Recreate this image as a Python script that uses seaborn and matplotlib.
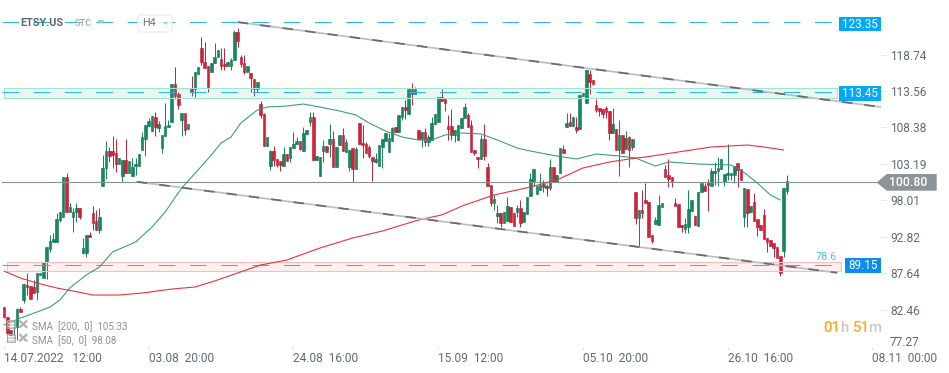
# ETSY.US H4 candle chart with channel lines and SMA
import numpy as np
import pandas as pd
import matplotlib.pyplot as plt
import matplotlib.transforms as mtransforms
from matplotlib.patches import Rectangle, Polygon, FancyBboxPatch
import seaborn as sns

open_px = [
    82.84,81.42,79.57,79.86,80.00,82.56,83.84,85.97,85.83,85.69,
    84.97,87.40,86.97,89.24,91.09,92.08,92.08,95.22,95.64,101.33,
    96.35,95.64,96.35,96.92,90.52,90.52,93.08,96.21,95.07,93.79,
    100.05,102.61,105.03,105.03,104.74,103.18,101.47,103.75,101.90,101.47,
    102.89,102.89,105.17,106.73,108.58,107.87,109.86,108.30,105.45,107.16,
    108.44,109.15,114.56,113.13,109.44,110.43,108.16,113.84,113.84,115.98,
    119.67,117.68,117.11,116.26,117.54,118.39,118.11,117.40,117.11,117.11,
    117.97,121.95,118.39,117.54,116.26,116.12,115.27,113.84,111.71,110.29,
    105.74,102.89,105.03,103.89,103.61,102.89,104.60,104.03,105.46,106.02,
    106.45,105.03,107.44,109.15,109.86,103.75,101.47,105.03,105.74,106.02,
    106.73,102.75,105.88,107.30,104.89,102.75,105.45,102.47,109.01,106.17,
    106.02,105.60,104.17,103.46,102.89,105.60,106.45,104.89,106.45,108.44,
    107.73,109.86,111.28,110.29,113.84,113.13,108.01,106.73,107.73,106.31,
    106.59,108.87,109.15,112.71,112.56,108.58,108.58,107.30,106.59,108.30,
    109.72,110.15,108.73,105.17,104.17,103.89,106.73,102.75,100.19,97.63,
    95.79,96.21,94.79,95.07,97.07,96.21,96.35,96.92,94.93,96.07,
    98.63,100.76,98.91,99.48,99.91,100.05,99.77,102.75,100.62,101.90,
    105.31,108.44,109.15,108.58,108.44,108.16,112.85,111.85,115.98,115.12,
    111.57,111.14,111.00,111.14,110.72,107.59,108.16,105.17,107.30,105.31,
    107.02,105.60,99.20,95.50,96.64,98.06,97.78,93.08,94.65,94.51,
    97.07,102.47,101.62,101.33,97.63,97.49,94.51,93.94,94.22,96.50,
    95.78,94.36,99.20,100.05,100.62,100.05,101.90,102.18,102.47,100.62,
    101.62,101.62,101.62,103.32,102.47,95.64,99.62,96.35,97.78,95.36,
    94.51,95.93,92.66,92.37,91.95,91.38,90.10,90.81,99.34,
]
close_px = [
    81.42,79.14,78.86,80.00,82.56,82.14,86.11,85.69,83.98,84.83,
    87.68,87.68,89.24,91.37,92.23,92.51,95.36,96.35,101.33,96.35,
    97.07,96.35,96.92,95.64,91.23,93.08,92.80,94.79,93.79,95.64,
    102.61,105.03,104.32,104.46,103.18,104.03,103.75,101.90,103.61,102.75,
    103.18,104.60,107.02,108.73,109.29,110.00,108.44,108.87,107.30,108.58,
    108.73,114.56,112.85,111.57,110.43,108.01,108.87,113.42,116.26,116.97,
    117.68,116.83,114.13,117.54,118.39,119.39,117.11,117.11,117.68,117.97,
    121.95,120.67,117.40,116.26,117.11,115.41,113.84,114.84,110.15,105.74,
    107.02,105.03,103.75,103.04,103.04,104.60,103.61,105.60,106.02,106.45,
    105.31,107.59,108.01,109.86,103.75,104.32,104.17,105.74,104.89,106.73,
    102.75,105.60,107.30,105.03,106.31,105.17,102.47,105.31,106.02,105.88,
    104.74,104.32,103.61,103.89,105.88,106.73,107.59,106.88,108.30,107.73,
    110.15,111.28,110.86,113.84,113.13,113.84,106.73,107.73,106.31,107.02,
    109.01,110.29,112.71,112.14,111.85,108.16,107.30,108.01,108.73,109.72,
    111.28,108.44,104.89,104.74,103.89,106.73,104.32,100.05,97.63,98.20,
    96.21,94.79,96.35,97.21,94.93,94.36,96.92,94.79,96.35,98.49,
    101.05,102.47,100.05,100.19,100.34,99.77,102.75,100.62,101.62,105.45,
    104.74,109.01,108.58,109.86,108.01,112.99,113.27,116.55,114.84,114.56,
    110.86,110.72,110.29,110.57,107.59,108.87,105.17,107.30,104.74,106.88,
    105.17,106.73,95.50,96.64,96.21,97.63,92.80,92.23,95.22,97.35,
    97.63,101.33,101.05,100.62,97.21,94.22,94.22,94.65,96.78,98.06,
    94.51,99.20,100.48,99.34,100.19,102.18,102.18,102.61,103.89,101.76,
    101.90,101.90,102.89,102.33,100.90,99.77,96.21,97.21,95.07,94.22,
    93.79,92.51,92.09,91.52,91.24,89.81,87.68,99.77,100.76,
]
high_px = [
    82.84,81.42,79.57,81.00,82.70,82.84,86.11,87.68,85.83,86.68,
    87.68,87.68,89.24,91.37,93.08,93.37,96.21,96.35,101.33,101.90,
    97.63,96.92,97.63,96.92,92.66,93.08,93.51,97.21,96.64,96.92,
    104.46,106.45,105.60,107.16,106.73,104.03,103.75,106.73,103.61,104.03,
    104.03,104.60,107.73,108.73,109.72,110.00,110.57,109.29,107.30,111.85,
    109.44,114.56,116.97,113.42,110.43,110.43,108.87,115.69,116.26,116.97,
    121.24,120.53,117.11,117.54,120.39,119.39,119.67,119.67,117.68,118.25,
    122.23,122.52,118.68,118.68,117.11,116.12,115.27,114.84,112.14,110.43,
    107.02,105.17,105.74,103.89,103.61,105.60,104.60,105.60,107.73,107.00,
    106.45,108.44,108.01,110.57,110.57,104.32,104.17,106.59,105.74,108.87,
    107.87,105.60,107.30,108.30,106.73,105.17,105.45,105.60,109.01,108.73,
    106.31,105.88,104.17,104.74,105.88,106.73,107.59,107.59,108.44,108.44,
    110.15,111.28,112.28,113.84,114.70,114.13,108.01,107.73,108.30,107.30,
    109.86,110.29,112.71,113.84,112.56,110.15,111.00,108.01,108.73,109.72,
    111.85,110.43,109.44,105.17,104.17,107.30,108.87,103.32,100.19,98.77,
    97.35,96.21,96.35,98.49,97.07,96.21,97.35,98.06,96.35,98.49,
    101.90,102.47,100.05,101.90,100.90,100.34,103.89,102.75,101.62,105.45,
    105.88,110.43,110.43,109.86,109.86,112.99,113.27,116.55,116.55,115.12,
    112.42,111.14,111.00,111.43,110.72,111.14,108.16,109.44,107.30,107.87,
    107.16,106.73,99.20,96.64,99.48,100.48,97.78,93.08,95.64,98.77,
    97.63,103.04,103.89,101.33,98.34,97.49,94.51,95.50,99.48,98.06,
    95.78,99.20,100.48,100.48,101.05,102.61,103.46,104.17,103.89,101.76,
    105.98,101.90,102.89,103.32,102.47,99.77,99.62,97.21,99.06,95.36,
    94.51,96.78,92.66,92.37,91.95,91.38,90.10,99.77,101.61,
]
low_px = [
    81.28,77.87,78.57,78.15,78.15,82.14,83.41,84.55,83.98,84.83,
    83.84,87.40,86.97,86.82,90.67,92.08,92.08,94.93,95.64,96.35,
    96.35,93.51,94.93,95.36,90.38,89.95,92.80,93.79,93.79,93.37,
    100.05,101.05,103.50,102.61,102.04,103.18,100.62,101.90,101.90,101.47,
    101.62,102.89,105.17,104.32,108.58,107.87,107.16,107.73,104.74,107.16,
    108.44,109.15,112.42,111.00,107.16,107.30,108.16,112.85,112.71,115.98,
    117.26,116.83,113.42,116.26,117.54,118.39,116.55,116.55,117.11,116.55,
    117.97,119.82,116.97,115.98,116.26,113.42,112.85,113.42,109.72,105.74,
    105.74,102.33,102.89,102.75,102.18,102.89,103.61,103.46,105.46,106.02,
    105.17,105.03,107.44,108.58,103.75,103.75,101.47,103.46,104.89,104.17,
    102.75,102.75,105.88,105.03,104.89,102.18,100.62,102.47,106.02,104.03,
    104.74,104.03,100.76,103.32,102.89,102.61,106.45,104.89,106.45,107.73,
    107.73,109.44,109.58,110.29,111.57,113.13,106.73,105.60,105.74,105.74,
    106.59,108.87,109.15,112.14,110.72,106.59,106.59,106.31,106.59,108.30,
    109.72,108.44,104.89,104.46,102.61,103.89,103.75,100.05,97.21,96.64,
    94.79,94.22,94.79,95.07,94.93,94.36,95.64,94.22,94.93,96.07,
    98.63,100.05,98.91,99.48,99.20,98.63,99.48,100.62,100.62,101.90,
    104.74,108.44,108.58,108.58,107.59,108.16,112.85,111.85,113.13,114.41,
    110.57,110.00,109.72,109.72,106.59,107.59,105.17,101.47,104.74,105.31,
    102.75,105.17,94.65,91.52,95.50,97.63,92.80,91.95,94.65,94.51,
    97.07,101.33,99.91,99.91,97.21,94.22,93.51,93.37,93.37,96.50,
    94.51,94.36,99.20,99.34,96.50,100.05,100.19,100.05,102.47,100.05,
    100.90,100.90,100.48,99.91,100.90,94.22,94.22,96.35,95.07,92.94,
    93.79,92.51,90.67,91.52,89.95,89.81,87.25,89.95,98.91,
]

sma50_bars = [0,5,10,14,17,20,25,29,33,40,45,49,54,59,63,66,69,72,77,80,86,91,96,102,107,111,116,121,
              126,130,134,139,145,150,156,160,168,174,180,187,192,198,202,211,221,224,229,233,236]
sma50 = [80.29,81.28,82.13,82.84,83.84,85.55,87.40,88.53,90.67,92.09,94.22,96.35,99.77,102.33,104.46,
         106.17,107.02,109.01,110.86,111.28,111.43,111.71,111.28,110.72,110.15,109.01,107.87,107.02,
         106.59,106.59,107.30,107.59,107.45,106.59,105.45,105.03,104.32,103.89,104.60,104.32,104.03,
         102.89,103.46,103.18,103.04,102.33,100.48,98.77,98.06]
sma200_bars = [0,5,10,16,21,27,35,42,51,58,64,71,78,86,96,106,115,126,133,140,149,160,168,176,184,192,
               195,205,215,226,231,237]
sma200 = [87.96,86.97,86.26,85.55,85.12,84.55,84.55,84.83,85.40,85.69,86.54,87.68,88.82,89.53,91.23,
          92.66,93.65,95.22,95.93,97.35,98.77,99.91,100.90,102.61,103.46,104.03,104.17,104.89,105.60,
          105.88,105.60,105.17]

y_ticks = [118.74, 113.56, 108.38, 103.19, 98.01, 92.82, 87.64, 82.46, 77.27]
x_tick_bars = [0, 44, 88, 132, 176, 220, 264]
x_tick_labels = ['14.07.2022   12:00', '03.08  20:00', '24.08  16:00', '15.09  12:00',
                 '05.10  20:00', '26.10  16:00', '08.11  00:00']

# channel lines (bar, price)
upper_bars = [71.1, 266.6]
upper_line = [123.35, 111.28]
lower_bars = [40.4, 253.2]
lower_line = [100.65, 87.72]

GREEN = '#108a5e'
RED = '#d81f38'
GRID_BLUE = '#29b6f6'
TXT = '#5f6b73'

sns.set_theme(style='white')
plt.rcParams['font.family'] = ['Roboto', 'DejaVu Sans']

W, H = 949, 373
fig = plt.figure(figsize=(W/100, H/100), dpi=100, facecolor='white')
ax = fig.add_axes([0, 1-347/H, 881/W, 347/H])
ax.set_xlim(-1.216, 266.6)
ax.set_ylim(77.16, 126.5)
sns.despine(ax=ax, left=True, right=True, top=True, bottom=True)

# figure pixels, origin top left, for the chrome around the plot
px = mtransforms.Affine2D().scale(1/W, -1/H).translate(0, 1) + fig.transFigure

df = pd.DataFrame({'o': open_px, 'h': high_px, 'l': low_px, 'c': close_px})
df['bar'] = np.arange(len(df))
up = df[df.c >= df.o]
dn = df[df.c < df.o]

ax.vlines(up.bar, up.l, up.h, color='#1b7f5a', lw=0.7, zorder=2)
ax.vlines(dn.bar, dn.l, dn.h, color='#b8233a', lw=0.7, zorder=2)
ax.bar(up.bar, up.c-up.o, bottom=up.o, width=0.78, color=GREEN, edgecolor='#0c6e4a', lw=0.4, zorder=2.1)
ax.bar(dn.bar, dn.o-dn.c, bottom=dn.c, width=0.78, color=RED, edgecolor='#b01a30', lw=0.4, zorder=2.1)

# zones
ax.add_patch(Rectangle((0, 112.61), 253.1, 1.38, fc=(0.25, 0.78, 0.6, 0.12), ec='#a3e6d0', lw=0.8, zorder=3))
ax.add_patch(Rectangle((0.9, 88.0), 253.4, 1.29, fc=(0.95, 0.35, 0.35, 0.09), ec='#f7bcbc', lw=0.8, zorder=3))

# horizontal levels
ax.plot([-0.6, 253.5], [123.35, 123.35], color=GRID_BLUE, lw=0.75, dashes=(16, 14), zorder=3.5)
ax.plot([-0.6, 253.5], [113.45, 113.45], color=GRID_BLUE, lw=0.75, dashes=(16, 14), zorder=3.5)
ax.plot([-0.6, 253.5], [88.75, 88.75], color='#5aa6d8', lw=0.75, dashes=(16, 14), zorder=3.5)
ax.plot([-0.6, 265.3], [100.58, 100.58], color='#88939a', lw=0.85, zorder=3.5)

sns.lineplot(x=sma50_bars, y=sma50, ax=ax, color='#2f9a78', lw=0.75, zorder=4, errorbar=None)
sns.lineplot(x=sma200_bars, y=sma200, ax=ax, color='#e5343c', lw=0.8, zorder=4, errorbar=None)

# channel lines, pale line with darker dashes on top
for bars, line in [(upper_bars, upper_line), (lower_bars, lower_line)]:
    ax.plot(bars, line, color='#bcbfc1', lw=1.25, zorder=5)
    ax.plot(bars, line, color='#666b6e', lw=1.25, dashes=(6, 7), zorder=5.1)

# axes
ax.yaxis.tick_right()
ax.set_yticks(y_ticks)
ax.set_yticklabels([f'{v:.2f}' for v in y_ticks])
ax.tick_params(axis='y', right=True, left=False, length=4.3, width=0.7, color='#e6e6e6', pad=2.2,
               labelsize=8.6, labelcolor=TXT)
ax.yaxis.get_major_ticks()[-1].tick2line.set_visible(False)
low_lab = ax.get_yticklabels()[-1]
low_lab.set_transform(low_lab.get_transform() + mtransforms.ScaledTranslation(0, 4/72, fig.dpi_scale_trans))

ax.set_xticks(x_tick_bars)
ax.set_xticklabels(x_tick_labels, ha='left')
ax.tick_params(axis='x', bottom=True, length=2.5, width=0.7, color='#dddddd', pad=1.0,
               labelsize=8.6, labelcolor=TXT)
ax.grid(False)

# price boxes
def price_box(x0, x1, y0, y1, label, color):
    fig.add_artist(Rectangle((x0, y0), x1-x0, y1-y0, transform=px, fc=color, ec='none', zorder=7))
    fig.text((x0+x1)/2, (y0+y1)/2, label, transform=px, color='white', fontsize=8.4,
             ha='center', va='center', zorder=8)

price_box(839, 881, 17.3, 30.7, '123.35', '#03a9f4')
price_box(839, 881, 86, 100.7, '113.45', '#03a9f4')
price_box(845, 881, 258, 272.7, '89.15', '#0a8cf0')

fig.add_artist(Polygon([(876.7, 182.5), (886.7, 174), (936.7, 174), (936.7, 190.7), (886.7, 190.7)],
                       transform=px, fc='#8a9499', ec='none', zorder=7))
fig.text(908, 182.5, '100.80', transform=px, color='white', fontsize=8.8, fontweight='medium',
         ha='center', va='center', zorder=8)

fig.text(826.7, 256.7, '78.6', transform=px, color='#5bbcf0', fontsize=7.8, ha='center', va='center', zorder=8)

# countdown
for xp, s, c in [(823, '01', '#ffa726'), (840, 'h', '#c9c9c9'), (852.3, '51', '#ffa726'), (868.3, 'm', '#c9c9c9')]:
    fig.text(xp, 328, s, transform=px, color=c, fontsize=10.8, fontweight='medium', ha='left', va='center', zorder=8)

# header
fig.text(20.7, 23, 'ETSY.US', transform=px, color='#5b6770', fontsize=7.8, fontweight='bold', va='center', zorder=8)
fig.text(75, 24, 'STC', transform=px, color='#a9b6c0', fontsize=6.6, fontweight='bold', va='center', zorder=8)
fig.add_artist(Polygon([(97, 20), (105, 20), (101, 24)], transform=px, fc='#b8c2c8', ec='none', zorder=8))
fig.add_artist(FancyBboxPatch((138, 15), 34, 17, boxstyle='round,pad=0,rounding_size=2.5', transform=px,
                              fc='#ffffff', ec='#e8e8e8', lw=0.9, alpha=0.85, zorder=7))
fig.text(142, 23.5, 'H4', transform=px, color='#6b7780', fontsize=7.8, va='center', zorder=8)
fig.add_artist(Polygon([(163, 22), (168, 22), (165.5, 25)], transform=px, fc='#b8c2c8', ec='none', zorder=8))

# sma legend
for yp, s in [(326.7, 'SMA  [200,  0]  105.33'), (340.3, 'SMA  [50,  0]  98.08')]:
    fig.text(31.7, yp, s, transform=px, color='#8d9296', fontsize=7.1, va='center', zorder=8)
    ly = yp-2.5
    fig.add_artist(Rectangle((7.5, ly-4), 8, 8, transform=px, fc=(0.75, 0.75, 0.75, 0.55), ec='#a8a8a8', lw=0.6, zorder=8))
    for dy in (-1.5, 1.5):
        fig.add_artist(plt.Line2D([8.5, 14.5], [ly+dy, ly+dy], transform=px, color='#ffffff', lw=0.6, zorder=8.1))
    fig.add_artist(plt.Line2D([20, 26.5], [ly-3, ly+3], transform=px, color='#b4b4b4', lw=1.7, zorder=8))
    fig.add_artist(plt.Line2D([20, 26.5], [ly+3, ly-3], transform=px, color='#b4b4b4', lw=1.7, zorder=8))

fig.savefig('out.png', dpi=100)
